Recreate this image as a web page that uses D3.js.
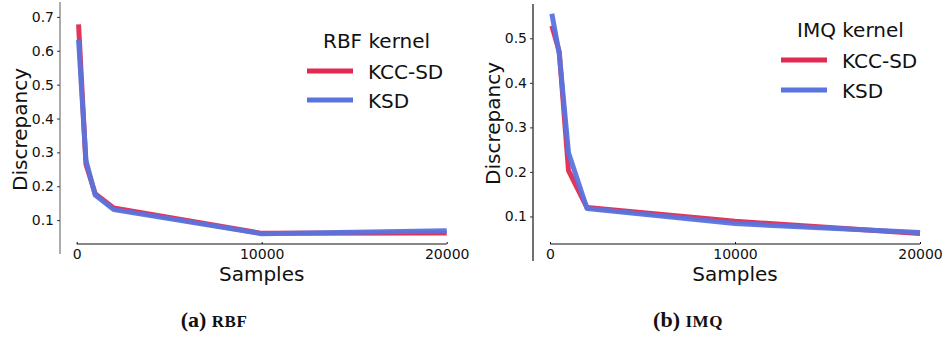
<!DOCTYPE html>
<html>
<head>
<meta charset="utf-8">
<script src="https://cdn.jsdelivr.net/npm/d3@7"></script>
<style>
  body { margin: 0; background: #fff; }
  svg { display: block; font-family: "DejaVu Sans", sans-serif; }
  .axis path.domain { display: none; }
  .caption { font-family: "Liberation Serif", "Times New Roman", serif; font-weight: bold; }
</style>
</head>
<body>
<svg id="chart" width="945" height="337"></svg>
<script>
// sample sizes on the x axis
const samples = [100, 500, 1000, 2000, 10000, 20000];
const xTicks = [0, 10000, 20000];

// (a) RBF kernel
const rbfKccsd = [0.678, 0.265, 0.178, 0.136, 0.061, 0.062];
const rbfKsd   = [0.632, 0.276, 0.174, 0.131, 0.060, 0.069];
const rbfTicks = [0.1, 0.2, 0.3, 0.4, 0.5, 0.6, 0.7];

// (b) IMQ kernel
const imqKccsd = [0.528, 0.470, 0.203, 0.120, 0.089, 0.062];
const imqKsd   = [0.555, 0.465, 0.243, 0.118, 0.084, 0.064];
const imqTicks = [0.1, 0.2, 0.3, 0.4, 0.5];

const seriesNames = ['KCC-SD', 'KSD'];
const colors = ['#e02a52', '#5874de'];

const svg = d3.select('#chart');

function translation(x, y) {
  return 'translate(' + x + ',' + y + ')';
}

function drawPanel(p) {
  const g = svg.append('g');

  const x = d3.scaleLinear().domain([0, 20000]).range([p.x0, p.x1]);
  const y = d3.scaleLinear().domain(p.yDomain).range([p.yBottom, p.yTop]);

  // y spine, drawn over the whole axes height
  g.append('line')
    .attr('x1', p.spineX).attr('x2', p.spineX)
    .attr('y1', p.yTop).attr('y2', p.yBottom)
    .attr('stroke', p.spineColor).attr('stroke-width', 1.2);

  const yAxis = g.append('g')
    .attr('class', 'axis y')
    .attr('transform', translation(p.spineX, 0))
    .call(d3.axisLeft(y).tickValues(p.yTicks).tickSize(3).tickPadding(3).tickFormat(d3.format('.1f')));
  yAxis.selectAll('line').attr('stroke', '#333');
  yAxis.selectAll('text').attr('font-size', 14).attr('fill', '#111').attr('font-family', 'DejaVu Sans');

  // x axis, trimmed to the tick range
  const xAxis = g.append('g')
    .attr('class', 'axis x')
    .attr('transform', translation(0, p.xAxisY))
    .call(d3.axisBottom(x).tickValues(xTicks).tickSize(-2).tickPadding(5).tickFormat(d3.format('d')));
  xAxis.append('line')
    .attr('x1', x(0)).attr('x2', x(20000))
    .attr('stroke', '#111').attr('stroke-width', 1.2);
  xAxis.selectAll('.tick line').attr('stroke', '#111');
  xAxis.selectAll('text').attr('font-size', 14).attr('fill', '#111').attr('font-family', 'DejaVu Sans');

  // axis labels
  g.append('text')
    .attr('x', (p.x0 + p.x1) / 2)
    .attr('y', 281)
    .attr('text-anchor', 'middle')
    .attr('font-size', 20)
    .attr('fill', '#111')
    .text('Samples');

  g.append('text')
    .attr('transform', translation(p.yLabelX, p.yLabelY) + ' rotate(-90)')
    .attr('text-anchor', 'middle')
    .attr('font-size', 20)
    .attr('fill', '#111')
    .text('Discrepancy');

  // lines
  const line = d3.line()
    .x((d, i) => x(samples[i]))
    .y(d => y(d));

  p.series.forEach((vals, k) => {
    g.append('path')
      .datum(vals)
      .attr('d', line)
      .attr('fill', 'none')
      .attr('stroke', colors[k])
      .attr('stroke-width', 5)
      .attr('stroke-linejoin', 'round')
      .attr('stroke-linecap', 'butt')
      .attr('opacity', 0.95);
  });

  // legend
  g.append('text')
    .attr('x', p.legendX + 16)
    .attr('y', p.legendY)
    .attr('font-size', 20)
    .attr('fill', '#111')
    .text(p.legendTitle);

  seriesNames.forEach((name, k) => {
    const ly = p.legendY + 23 + k * p.legendStep;
    g.append('line')
      .attr('x1', p.legendX).attr('x2', p.legendX + 46)
      .attr('y1', ly).attr('y2', ly)
      .attr('stroke', colors[k]).attr('stroke-width', 5);
    g.append('text')
      .attr('x', p.legendX + 61)
      .attr('y', ly + 7.5)
      .attr('font-size', 20)
      .attr('fill', '#111')
      .text(name);
  });

  // caption under the panel
  const cap = g.append('text')
    .attr('class', 'caption')
    .attr('x', p.captionX)
    .attr('y', 327)
    .attr('text-anchor', 'middle')
    .attr('fill', '#111');
  cap.append('tspan').attr('font-size', 22).text(p.captionTag + ' ');
  cap.append('tspan').attr('font-size', 17).attr('letter-spacing', 0.5).text(p.captionName);
}

drawPanel({
  x0: 76.7, x1: 446.7,
  yDomain: [0, 0.744], yTop: 2, yBottom: 254,
  yTicks: rbfTicks,
  spineX: 60, spineColor: '#777',
  xAxisY: 244,
  yLabelX: 27, yLabelY: 129.5,
  series: [rbfKccsd, rbfKsd],
  legendTitle: 'RBF kernel', legendX: 307, legendY: 48, legendStep: 29,
  captionX: 214, captionTag: '(a)', captionName: 'RBF'
});

drawPanel({
  x0: 550, x1: 920,
  yDomain: [0, 0.577], yTop: 4, yBottom: 261,
  yTicks: imqTicks,
  spineX: 533, spineColor: '#111',
  xAxisY: 244,
  yLabelX: 500, yLabelY: 123.5,
  series: [imqKccsd, imqKsd],
  legendTitle: 'IMQ kernel', legendX: 781, legendY: 37, legendStep: 30,
  captionX: 688, captionTag: '(b)', captionName: 'IMQ'
});
</script>
</body>
</html>
